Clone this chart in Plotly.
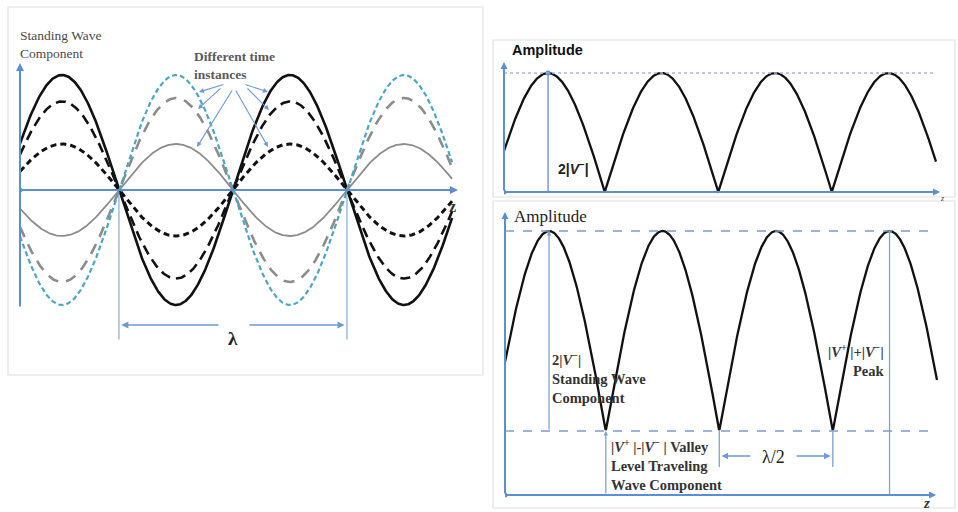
import numpy as np
import plotly.graph_objects as go

W, H = 958, 512

# ---------------- data ----------------
# Left panel: standing-wave component at different time instances (relative amplitude)
left_amplitudes = [1.0, 0.77, 0.40, -0.40, -0.80, -1.0]
left_colors = ["#111111", "#111111", "#111111", "#8c8c8c", "#8c8c8c", "#4ba6c6"]
left_dashes = ["solid", "10px,6px", "6px,4px", "solid", "11px,8px", "5px,3px"]
left_widths = [2.6, 2.6, 3.0, 1.8, 2.6, 2.2]
left_peak_z = 0.184          # first crest position (in wavelengths)
left_z_end = 1.895
left_nodes = [0.434, 1.434]  # λ markers

# Right panels: amplitude envelope
V_minus = 1.0
V_plus = 1.64
right_peak_z = 0.194
right_z_end = 1.903

SERIF = "Liberation Serif"
SANS = "Liberation Sans"
AXC = "#5b8fd0"


def xdom(a, b):
    return [a / W, b / W]


def ydom(top, bottom):
    return [1 - bottom / H, 1 - top / H]


def P(px, py):
    return px / W, 1 - py / H


fig = go.Figure()

# ---------- left panel curves ----------
zl = np.linspace(0, left_z_end, 600)
for A, c, d, w in zip(left_amplitudes, left_colors, left_dashes, left_widths):
    fig.add_trace(go.Scatter(x=zl, y=A * np.cos(2 * np.pi * (zl - left_peak_z)),
                             mode="lines", line=dict(color=c, dash=d, width=w),
                             xaxis="x", yaxis="y", hoverinfo="skip", showlegend=False))

# ---------- top-right curve ----------
zr = np.linspace(0, right_z_end, 800)
fig.add_trace(go.Scatter(x=zr, y=2 * V_minus * np.abs(np.cos(2 * np.pi * (zr - right_peak_z))),
                         mode="lines", line=dict(color="#111111", width=2.3),
                         xaxis="x2", yaxis="y2", hoverinfo="skip", showlegend=False))

# ---------- bottom-right curve ----------
fig.add_trace(go.Scatter(x=zr, y=(V_plus - V_minus) + 2 * V_minus * np.abs(np.cos(2 * np.pi * (zr - right_peak_z))),
                         mode="lines", line=dict(color="#111111", width=2.3),
                         xaxis="x3", yaxis="y3", hoverinfo="skip", showlegend=False))

# origin dots
for xa, ya in (("x", "y"), ("x2", "y2"), ("x3", "y3")):
    fig.add_trace(go.Scatter(x=[0], y=[0], mode="markers", marker=dict(color=AXC, size=5),
                             xaxis=xa, yaxis=ya, hoverinfo="skip", showlegend=False))
fig.add_trace(go.Scatter(x=[right_peak_z], y=[2 * V_minus], mode="markers",
                         marker=dict(color=AXC, size=5), xaxis="x2", yaxis="y2",
                         hoverinfo="skip", showlegend=False))

shapes = []
ann = []

# frames
for (x0, y0, x1, y1) in [(8, 7, 483, 375), (493, 40, 955, 197), (493, 201, 955, 508)]:
    a, b = P(x0, y0)
    c, d = P(x1, y1)
    shapes.append(dict(type="rect", xref="paper", yref="paper", x0=a, y0=d, x1=c, y1=b,
                       line=dict(color="#e2e2e2", width=1.2), fillcolor="rgba(0,0,0,0)", layer="below"))


def arrow(xr, yr, x, y, ax, ay, color=AXC, width=2, size=1.0, head=2):
    ann.append(dict(xref=xr, yref=yr, axref=xr, ayref=yr, x=x, y=y, ax=ax, ay=ay,
                    text="", showarrow=True, arrowhead=head, arrowsize=size,
                    arrowwidth=width, arrowcolor=color))


def text(px, py, s, size, color="#222", bold=False, family=SERIF, xanchor="left", yanchor="middle", align="left"):
    x, y = P(px, py)
    if bold:
        s = "<b>" + s + "</b>"
    ann.append(dict(xref="paper", yref="paper", x=x, y=y, text=s, showarrow=False,
                    xanchor=xanchor, yanchor=yanchor, align=align,
                    font=dict(family=family, size=size, color=color)))


# ---------- left panel axes & labels ----------
arrow("x", "y", 0, 1.104, 0, -1.026, width=2, size=0.8)
arrow("x", "y", 1.921, 0, 0, 0, width=2, size=0.8)
for zn in left_nodes:
    shapes.append(dict(type="line", xref="x", yref="y", x0=zn, x1=zn, y0=-0.04, y1=-1.30,
                       line=dict(color="#8fb0dd", width=1.3)))
arrow("x", "y", left_nodes[0] + 0.01, -1.174, 0.877, -1.174, color="#6d9bd6", width=1.3, size=1.1)
arrow("x", "y", left_nodes[1] - 0.01, -1.174, 1.0, -1.174, color="#6d9bd6", width=1.3, size=1.1)
text(233, 338, "λ", 19, color="#222", bold=True, xanchor="center")
text(452, 206, "z", 16, color="#333", bold=True, xanchor="center")
text(18, 44, "Standing Wave<br>Component", 13.5, color="#4a4a4a", yanchor="middle")
text(234, 65, "Different time<br>instances", 13.5, color="#5a5a5a", bold=True, xanchor="center")
for (hx, hy, tx, ty) in [(199, 92, 225, 84), (198, 109, 222, 87), (197, 147, 233, 89),
                         (268, 92, 244, 84), (269, 110, 246, 87), (268, 147, 235, 89)]:
    hxp, hyp = P(hx, hy)
    ann.append(dict(xref="paper", yref="paper", x=hxp, y=hyp, ax=tx - hx, ay=ty - hy,
                    text="", showarrow=True, arrowhead=2, arrowsize=0.9, arrowwidth=1.1,
                    arrowcolor="#6d9bd6"))

# ---------- top-right panel ----------
arrow("x2", "y2", 0, 2.185, 0, 0, width=2, size=0.7)
arrow("x2", "y2", 1.921, 0, 0, 0, width=2, size=0.7)
shapes.append(dict(type="line", xref="x2", yref="y2", x0=0, x1=1.899, y0=2 * V_minus, y1=2 * V_minus,
                   line=dict(color="#a8b8e0", width=1.6, dash="dot")))
shapes.append(dict(type="line", xref="x2", yref="y2", x0=right_peak_z, x1=right_peak_z, y0=0, y1=2 * V_minus,
                   line=dict(color=AXC, width=1.3)))
text(510, 50, "Amplitude", 14.5, color="#111", bold=True, family=SANS)
text(556, 168, "2|<i>V</i><sup>−</sup>|", 14, color="#222", bold=True, family=SANS)
text(938, 198, "<i>z</i>", 8, color="#444")

# ---------- bottom-right panel ----------
arrow("x3", "y3", 0, 2.83, 0, 0, width=2, size=0.7)
arrow("x3", "y3", 1.899, 0, 0, 0, width=2, size=0.7)
for lvl in (V_plus + V_minus, V_plus - V_minus):
    shapes.append(dict(type="line", xref="x3", yref="y3", x0=0, x1=1.894, y0=lvl, y1=lvl,
                       line=dict(color="#7d9bd0", width=1.3, dash="dash")))
arrow("x3", "y3", right_peak_z, V_plus + V_minus, right_peak_z, V_plus - V_minus, color="#7aa3d8", width=1.3, size=0.7)
arrow("x3", "y3", right_peak_z + 0.25, V_plus - V_minus, right_peak_z + 0.25, 0, color="#7aa3d8", width=1.3, size=0.7)
for zn in (right_peak_z + 0.75, right_peak_z + 1.25):
    shapes.append(dict(type="line", xref="x3", yref="y3", x0=zn, x1=zn, y0=0.28, y1=V_plus - V_minus,
                       line=dict(color="#7aa3d8", width=1.3)))
zp = right_peak_z + 1.5
shapes.append(dict(type="line", xref="x3", yref="y3", x0=zp, x1=zp, y0=0, y1=V_plus + V_minus,
                   line=dict(color="#7aa3d8", width=1.3)))
arrow("x3", "y3", right_peak_z + 0.76, 0.39, 1.088, 0.39, color="#6d9bd6", width=1.3, size=1.0)
arrow("x3", "y3", right_peak_z + 1.24, 0.39, 1.278, 0.39, color="#6d9bd6", width=1.3, size=1.0)
text(773, 457, "λ/2", 18, color="#222", xanchor="center")
text(512, 216, "Amplitude", 17, color="#222")
text(550, 378, "2|<i>V</i><sup>−</sup>|<br>Standing Wave<br>Component", 14.5, color="#333", bold=True)
text(609, 465, "|<i>V</i><sup>+</sup> |-|<i>V</i><sup>−</sup> | Valley<br>Level Traveling<br>Wave Component", 14.5, color="#333", bold=True)
text(887, 360, "|<i>V</i><sup>+</sup> |+|<i>V</i><sup>−</sup>|<br>Peak", 14.5, color="#333", bold=True,
     xanchor="right", align="right")
text(926, 503, "<i>z</i>", 15, color="#333", bold=True, xanchor="center")

ax_common = dict(visible=False, fixedrange=True, showgrid=False, zeroline=False)
fig.update_layout(
    width=W, height=H, margin=dict(l=0, r=0, t=0, b=0),
    paper_bgcolor="white", plot_bgcolor="rgba(0,0,0,0)", showlegend=False,
    xaxis=dict(domain=xdom(20, 470), range=[0, 450 / 228], anchor="y", **ax_common),
    yaxis=dict(domain=ydom(50, 350), range=[(190 - 350) / 115, (190 - 50) / 115], anchor="x", **ax_common),
    xaxis2=dict(domain=xdom(504, 950), range=[0, 446 / 227], anchor="y2", **ax_common),
    yaxis2=dict(domain=ydom(45, 200), range=[(192 - 200) / 59.5, (192 - 45) / 59.5], anchor="x2", **ax_common),
    xaxis3=dict(domain=xdom(505, 950), range=[0, 445 / 227], anchor="y3", **ax_common),
    yaxis3=dict(domain=ydom(205, 505), range=[(495 - 505) / 100, (495 - 205) / 100], anchor="x3", **ax_common),
    shapes=shapes, annotations=ann,
)

fig.write_html("out.html", config={"displayModeBar": False},
               post_script="document.body.style.margin='0';document.body.style.overflow='hidden';")
